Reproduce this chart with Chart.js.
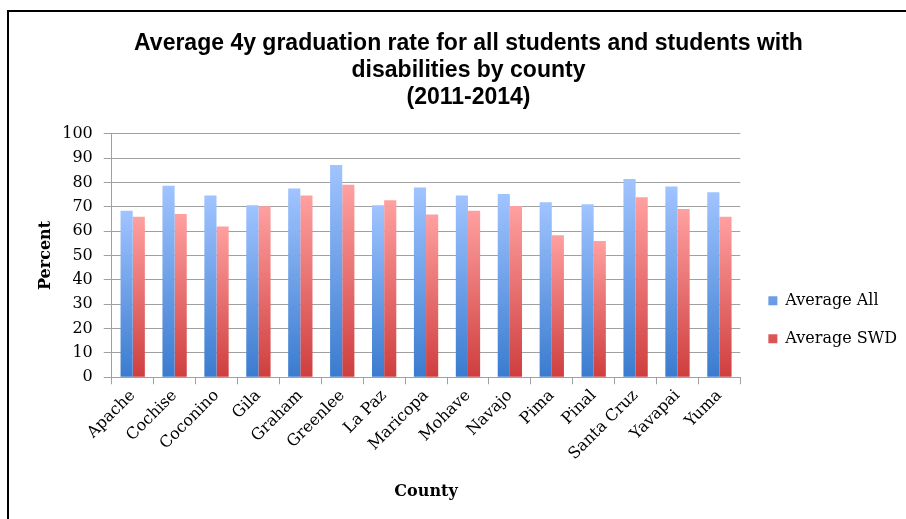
<!DOCTYPE html>
<html>
<head>
<meta charset="utf-8">
<script src="https://cdn.jsdelivr.net/npm/chart.js@4/dist/chart.umd.min.js"></script>
<style>
  html, body { margin: 0; padding: 0; background: #fff; }
  #wrap { position: relative; width: 906px; height: 519px; }
  #frame { position: absolute; left: 7px; top: 10px; right: -10px; bottom: -10px;
           border-left: 2px solid #000; border-top: 2px solid #000; pointer-events: none; }
  canvas { position: absolute; left: 0; top: 0; }
</style>
</head>
<body>
<div id="wrap">
  <canvas id="c" width="906" height="519"></canvas>
  <div id="frame"></div>
</div>
<script>
const titleLines = ["Average 4y graduation rate for all students and students with", "disabilities by county", "(2011-2014)"];
const counties = ["Apache", "Cochise", "Coconino", "Gila", "Graham", "Greenlee", "La Paz", "Maricopa", "Mohave", "Navajo", "Pima", "Pinal", "Santa Cruz", "Yavapai", "Yuma"];
const averageAll = [68.4, 78.6, 74.6, 70.6, 77.5, 87.2, 70.6, 77.9, 74.6, 75.2, 71.9, 71.0, 81.4, 78.3, 76.0];
const averageSWD = [65.9, 67.0, 61.9, 70.2, 74.6, 79.0, 72.7, 66.8, 68.4, 70.3, 58.3, 56.0, 73.9, 69.1, 65.9];
const seriesNames = ["Average All", "Average SWD"];
const yTicks = [0, 10, 20, 30, 40, 50, 60, 70, 80, 90, 100];

function barGradient(top, bottom, solid) {
  return function (ctx) {
    if (ctx.type !== 'data') return solid;
    const chart = ctx.chart;
    const ys = chart.scales && chart.scales.y;
    if (!ys || !chart.chartArea) return solid;
    const yTop = ys.getPixelForValue(ctx.raw);
    const yBot = ys.getPixelForValue(0);
    if (!isFinite(yTop) || !isFinite(yBot) || yTop === yBot) return solid;
    const g = chart.ctx.createLinearGradient(0, yTop, 0, yBot);
    g.addColorStop(0, top);
    g.addColorStop(1, bottom);
    return g;
  };
}

// leave a small gap between the plot area and the legend column
const legendGap = {
  id: 'legendGap',
  afterLayout(chart) {
    const l = chart.legend;
    if (l) { l.left += 6; l.right += 6; }
  }
};

new Chart(document.getElementById('c'), {
  type: 'bar',
  data: {
    labels: counties,
    datasets: [
      { label: seriesNames[0], data: averageAll,
        backgroundColor: barGradient('#a0c4ff', '#3a7bcf', '#4f8ad9'),
        categoryPercentage: 0.58, barPercentage: 1.0 },
      { label: seriesNames[1], data: averageSWD,
        backgroundColor: barGradient('#ffa0a0', '#cf3e3e', '#dc5454'),
        categoryPercentage: 0.58, barPercentage: 1.0 }
    ]
  },
  plugins: [legendGap],
  options: {
    responsive: false,
    animation: false,
    devicePixelRatio: 1,
    layout: { padding: { left: 36, right: 5, top: 0, bottom: 14 } },
    plugins: {
      title: {
        display: true,
        text: titleLines,
        color: '#000',
        font: { family: '"Liberation Sans", Arial, sans-serif', size: 23, weight: 'bold', lineHeight: 1.17 },
        padding: { top: 30, bottom: 23 }
      },
      legend: {
        position: 'right',
        align: 'center',
        title: { display: true, text: ' ', font: { size: 12, lineHeight: 1.2 }, padding: { top: 0, bottom: 120 } },
        labels: {
          color: '#000',
          font: { family: '"DejaVu Serif", serif', size: 16 },
          boxWidth: 9, boxHeight: 9,
          padding: 22
        }
      },
      tooltip: { enabled: false }
    },
    scales: {
      x: {
        grid: { display: true, drawOnChartArea: false, drawTicks: true, tickLength: 7, color: '#a0a0a0', offset: true },
        border: { color: '#a0a0a0', width: 1 },
        ticks: { color: '#000', font: { family: '"DejaVu Serif", serif', size: 16 }, minRotation: 45, maxRotation: 45, padding: 2, autoSkip: false },
        title: { display: true, text: 'County', color: '#000', font: { family: '"DejaVu Serif", serif', size: 16, weight: 'bold' }, padding: { top: 16 } }
      },
      y: {
        min: 0, max: 100,
        afterBuildTicks: (axis) => { axis.ticks = yTicks.map(v => ({ value: v })); },
        grid: { color: '#a0a0a0', lineWidth: 1, tickLength: 8 },
        border: { color: '#a0a0a0', width: 1 },
        ticks: { color: '#000', font: { family: '"DejaVu Serif", serif', size: 16 }, padding: 11 },
        title: { display: true, text: 'Percent', color: '#000', font: { family: '"DejaVu Serif", serif', size: 16, weight: 'bold' }, padding: { top: 0, bottom: -4 } }
      }
    }
  }
});
</script>
</body>
</html>
